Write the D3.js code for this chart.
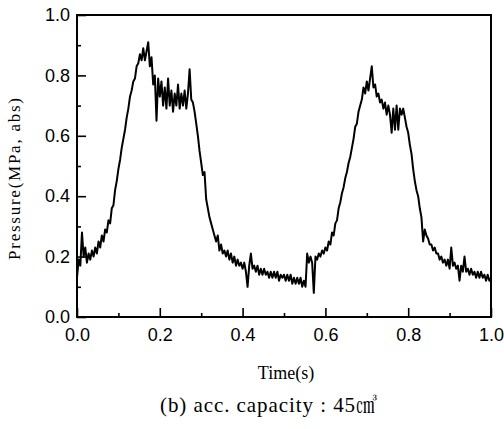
<!DOCTYPE html>
<html>
<meta charset="utf-8">
<style>
body {
	margin: 0;
	background: #fff;
}
svg {
	display: block;
}
.tick-label {
	font-family: "Liberation Sans", Arial, Helvetica, sans-serif;
	font-size: 18px;
	fill: #000;
}
.title {
	font-family: "Liberation Serif", "Times New Roman", serif;
	fill: #000;
}
</style>
<body>
<script src="https://cdn.jsdelivr.net/npm/d3@7"></script>
<script>
// sampling interval of the recorded trace (s)
var dt = 0.004;

// pressure (MPa, abs), one value per sample
var pressure = [
	0.13, 0.19, 0.17, 0.28, 0.20, 0.23, 0.18, 0.21, 0.19, 0.22,
	0.20, 0.23, 0.21, 0.25, 0.23, 0.27, 0.25, 0.29, 0.28, 0.32,
	0.31, 0.36, 0.37, 0.42, 0.45, 0.49, 0.52, 0.56, 0.59, 0.62,
	0.66, 0.69, 0.73, 0.75, 0.78, 0.79, 0.83, 0.84, 0.87, 0.85,
	0.89, 0.85, 0.88, 0.91, 0.83, 0.86, 0.77, 0.80, 0.65, 0.79,
	0.73, 0.78, 0.70, 0.76, 0.69, 0.79, 0.70, 0.75, 0.68, 0.74,
	0.70, 0.77, 0.69, 0.74, 0.70, 0.75, 0.69, 0.74, 0.82, 0.72,
	0.71, 0.68, 0.64, 0.60, 0.55, 0.51, 0.47, 0.48, 0.39, 0.36,
	0.33, 0.31, 0.29, 0.27, 0.25, 0.27, 0.22, 0.24, 0.21, 0.22,
	0.20, 0.22, 0.19, 0.21, 0.18, 0.20, 0.17, 0.19, 0.17, 0.18,
	0.16, 0.18, 0.15, 0.10, 0.17, 0.21, 0.16, 0.17, 0.15, 0.17,
	0.14, 0.16, 0.14, 0.16, 0.14, 0.15, 0.13, 0.15, 0.13, 0.15,
	0.13, 0.15, 0.12, 0.14, 0.13, 0.14, 0.12, 0.14, 0.12, 0.14,
	0.11, 0.13, 0.11, 0.13, 0.11, 0.13, 0.10, 0.12, 0.10, 0.21,
	0.18, 0.20, 0.18, 0.08, 0.20, 0.19, 0.21, 0.20, 0.22, 0.21,
	0.23, 0.22, 0.25, 0.24, 0.28, 0.27, 0.31, 0.32, 0.36, 0.38,
	0.41, 0.43, 0.46, 0.48, 0.51, 0.53, 0.56, 0.59, 0.63, 0.64,
	0.68, 0.70, 0.72, 0.76, 0.74, 0.78, 0.75, 0.79, 0.83, 0.76,
	0.77, 0.73, 0.74, 0.71, 0.72, 0.69, 0.71, 0.67, 0.70, 0.67,
	0.61, 0.69, 0.62, 0.70, 0.62, 0.69, 0.67, 0.69, 0.66, 0.63,
	0.61, 0.57, 0.54, 0.49, 0.45, 0.42, 0.40, 0.36, 0.33, 0.25,
	0.29, 0.27, 0.26, 0.24, 0.24, 0.22, 0.23, 0.21, 0.21, 0.19,
	0.20, 0.18, 0.19, 0.17, 0.19, 0.16, 0.23, 0.17, 0.18, 0.16,
	0.17, 0.12, 0.17, 0.15, 0.20, 0.15, 0.16, 0.14, 0.16, 0.14,
	0.15, 0.13, 0.15, 0.13, 0.15, 0.13, 0.14, 0.12, 0.14, 0.12,
	0.13
];

var xTicks = [0.0, 0.2, 0.4, 0.6, 0.8, 1.0];
var yTicks = [0.0, 0.2, 0.4, 0.6, 0.8, 1.0];
var xMinor = [0.1, 0.3, 0.5, 0.7, 0.9];
var yMinor = [0.1, 0.3, 0.5, 0.7, 0.9];

var xLabel = "Time(s)";
var yLabel = "Pressure(MPa,  abs)";
var caption = "(b) acc. capacity : 45㎤";

var W = 504, H = 429;
var margin = {top: 15, right: 13, bottom: 112, left: 77},
	width = W - margin.left - margin.right,
	height = H - margin.top - margin.bottom;

var data = pressure.map(function(p, i) { return {t: i * dt, p: p}; });

var x = d3.scaleLinear().domain([0, 1]).range([0, width]);
var y = d3.scaleLinear().domain([0, 1]).range([height, 0]);

var svg = d3.select("body").append("svg")
	.attr("width", W)
	.attr("height", H);

var g = svg.append("g")
	.attr("transform", "translate(" + margin.left + "," + margin.top + ")");

// trace
var line = d3.line()
	.x(function(d) { return x(d.t); })
	.y(function(d) { return y(d.p); });

g.append("path")
	.datum(data)
	.attr("fill", "none")
	.attr("stroke", "#000")
	.attr("stroke-width", 2)
	.attr("stroke-linejoin", "round")
	.attr("d", line);

// frame
g.append("rect")
	.attr("x", 0)
	.attr("y", 0)
	.attr("width", width)
	.attr("height", height)
	.attr("fill", "none")
	.attr("stroke", "#000")
	.attr("stroke-width", 2);

// x axis (ticks inside)
var xAxis = g.append("g")
	.attr("transform", "translate(0," + height + ")")
	.call(d3.axisBottom(x).tickValues(xTicks).tickSize(-9).tickPadding(11).tickFormat(d3.format(".1f")));
xAxis.select(".domain").remove();
xAxis.selectAll(".tick line").attr("stroke-width", 1.6);
xAxis.selectAll("text").attr("class", "tick-label").attr("fill", null).attr("font-size", null).attr("font-family", null);

var xAxisMinor = g.append("g")
	.attr("transform", "translate(0," + height + ")")
	.call(d3.axisBottom(x).tickValues(xMinor).tickSize(-4).tickFormat(""));
xAxisMinor.select(".domain").remove();
xAxisMinor.selectAll(".tick line").attr("stroke-width", 1.6);

// y axis (ticks inside)
var yAxis = g.append("g")
	.call(d3.axisLeft(y).tickValues(yTicks).tickSize(-9).tickPadding(7).tickFormat(d3.format(".1f")));
yAxis.select(".domain").remove();
yAxis.selectAll(".tick line").attr("stroke-width", 1.6);
yAxis.selectAll("text").attr("class", "tick-label").attr("fill", null).attr("font-size", null).attr("font-family", null);

var yAxisMinor = g.append("g")
	.call(d3.axisLeft(y).tickValues(yMinor).tickSize(-4).tickFormat(""));
yAxisMinor.select(".domain").remove();
yAxisMinor.selectAll(".tick line").attr("stroke-width", 1.6);

// titles
svg.append("text")
	.attr("class", "title")
	.attr("x", 286)
	.attr("y", 379)
	.attr("font-size", "18px")
	.attr("text-anchor", "middle")
	.text(xLabel);

svg.append("text")
	.attr("class", "title")
	.attr("transform", "translate(20,179) rotate(-90)")
	.attr("font-size", "17px")
	.attr("text-anchor", "middle")
	.attr("textLength", 162)
	.attr("lengthAdjust", "spacing")
	.text(yLabel);

svg.append("text")
	.attr("class", "title")
	.attr("x", 160)
	.attr("y", 412)
	.attr("font-size", "21px")
	.attr("textLength", 217)
	.attr("lengthAdjust", "spacing")
	.style("font-family", "\"Liberation Serif\", \"Noto Serif CJK KR\", \"Noto Sans CJK KR\", serif")
	.text(caption);
</script>
</body>
</html>
